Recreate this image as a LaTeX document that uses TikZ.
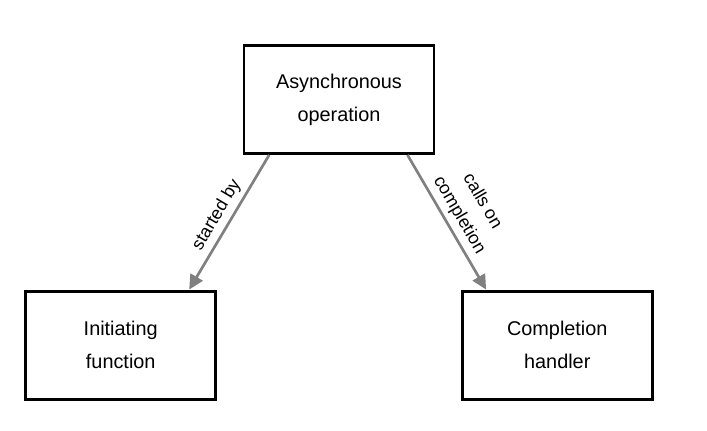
\documentclass[tikz,border=0pt]{standalone}
\usepackage{fontspec}
\setmainfont{Liberation Sans}
\usepackage{tikz}
\usetikzlibrary{positioning,arrows.meta}
\definecolor{ArrowGray}{HTML}{808080}

\begin{document}
\begin{tikzpicture}[>={Triangle[length=11pt,width=10.5pt]},node distance=3mm]
  \tikzstyle{box}=[draw=black,line width=2.2pt,minimum width=142.5pt,
    minimum height=81pt,align=center,
    font=\fontsize{14.9}{24.75}\selectfont]
  \tikzstyle{link}=[->,line width=2pt,color=ArrowGray]
  \tikzstyle{tag}=[sloped,above,align=center,text=black,inner sep=3.5pt,
    font=\fontsize{13.4}{20}\selectfont]
  \useasboundingbox (-254.25pt,74.6pt) rectangle (276pt,-248.6pt);
  \node[box] (op) {Asynchronous\\operation};
  \node[box,below left=101pt and 19pt of op] (init) {Initiating\\function};
  \node[box,below right=101pt and 19pt of op] (hand) {Completion\\handler};
  \draw[link] ([xshift=20pt]op.south west) -- ([xshift=-21pt]init.north east)
    node[tag,midway] {started by};
  \draw[link] ([xshift=-21pt]op.south east) -- ([xshift=19pt]hand.north west)
    node[tag,midway] {calls on\\completion};
\end{tikzpicture}
\end{document}
